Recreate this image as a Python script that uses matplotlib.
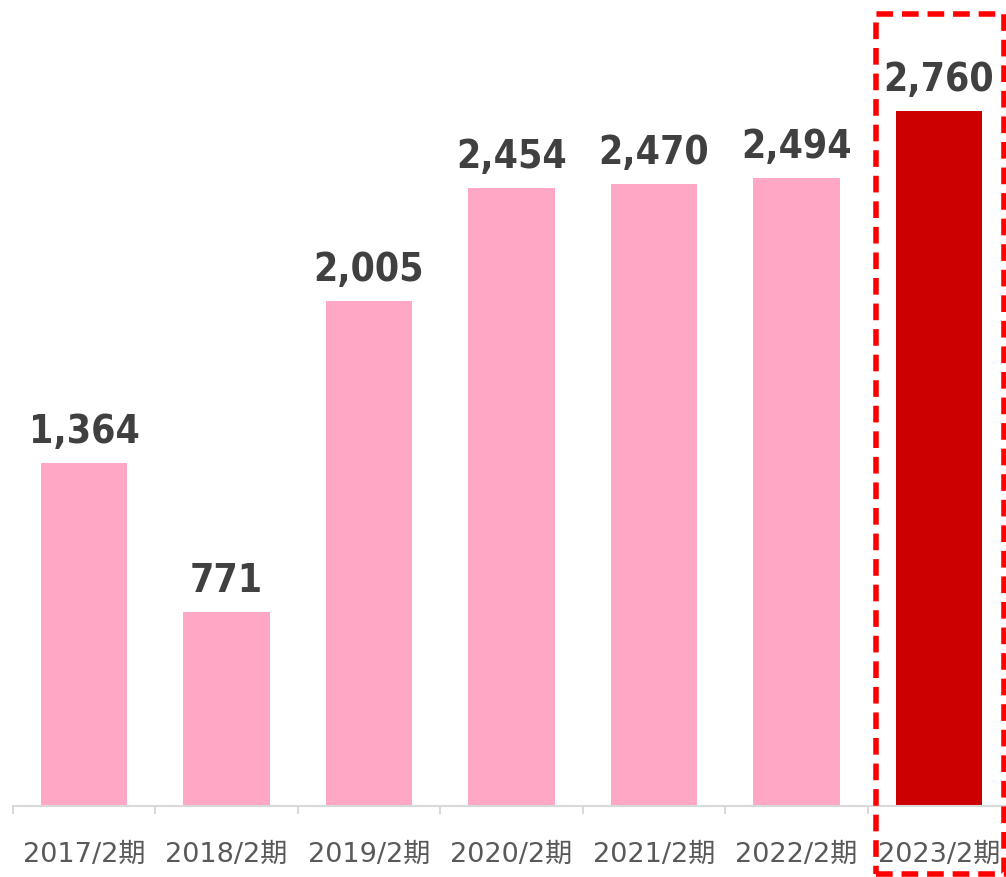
import matplotlib
matplotlib.use("Agg")
import matplotlib.pyplot as plt
from matplotlib.patches import Rectangle
import numpy as np

categories = ["2017/2期", "2018/2期", "2019/2期", "2020/2期", "2021/2期", "2022/2期", "2023/2期"]
values = [1364, 771, 2005, 2454, 2470, 2494, 2760]
labels = ["1,364", "771", "2,005", "2,454", "2,470", "2,494", "2,760"]
colors = ["#FFA7C4"] * 6 + ["#CC0000"]

W, H = 1006, 878
fig = plt.figure(figsize=(W / 100, H / 100), dpi=100)
left_px, right_px = 12.75, 1010.25
base_px = 807
ax = fig.add_axes([left_px / W, 1 - base_px / H, (right_px - left_px) / W, base_px / H])
ymax = base_px / ((807 - 112) / 2760)
x = np.arange(len(categories))
ax.bar(x, values, width=0.61, color=colors, zorder=2)
ax.set_xlim(-0.5, len(categories) - 0.5)
ax.set_ylim(0, ymax)

for xi, v, lab in zip(x, values, labels):
    ax.annotate(lab, (xi, v), xytext=(0, 15), textcoords="offset points",
                ha="center", va="baseline", fontsize=28, fontweight="bold",
                fontstretch="condensed", color="#404040", family="DejaVu Sans")

for s in ["top", "right", "left"]:
    ax.spines[s].set_visible(False)
ax.spines["bottom"].set_color("#D9D9D9")
ax.spines["bottom"].set_linewidth(1.5)
ax.set_yticks([])
ax.set_xticks(x)
ax.set_xticklabels(categories, fontsize=19.5, color="#595959",
                   family=["DejaVu Sans", "Noto Sans CJK JP"])
ax.tick_params(axis="x", which="major", length=0, pad=25)
ax.set_xticks(np.arange(-0.5, len(categories), 1.0), minor=True)
ax.tick_params(axis="x", which="minor", length=6, width=1.5, color="#D9D9D9")

rect = Rectangle((876 / W, 1 - 875 / H), (1004 - 876) / W, (875 - 14.5) / H,
                 transform=fig.transFigure, fill=False, edgecolor="#FF0000",
                 linewidth=4, linestyle=(0, (3, 1.6)), clip_on=False, zorder=5)
fig.patches.append(rect)

fig.savefig("out.png", dpi=100)
